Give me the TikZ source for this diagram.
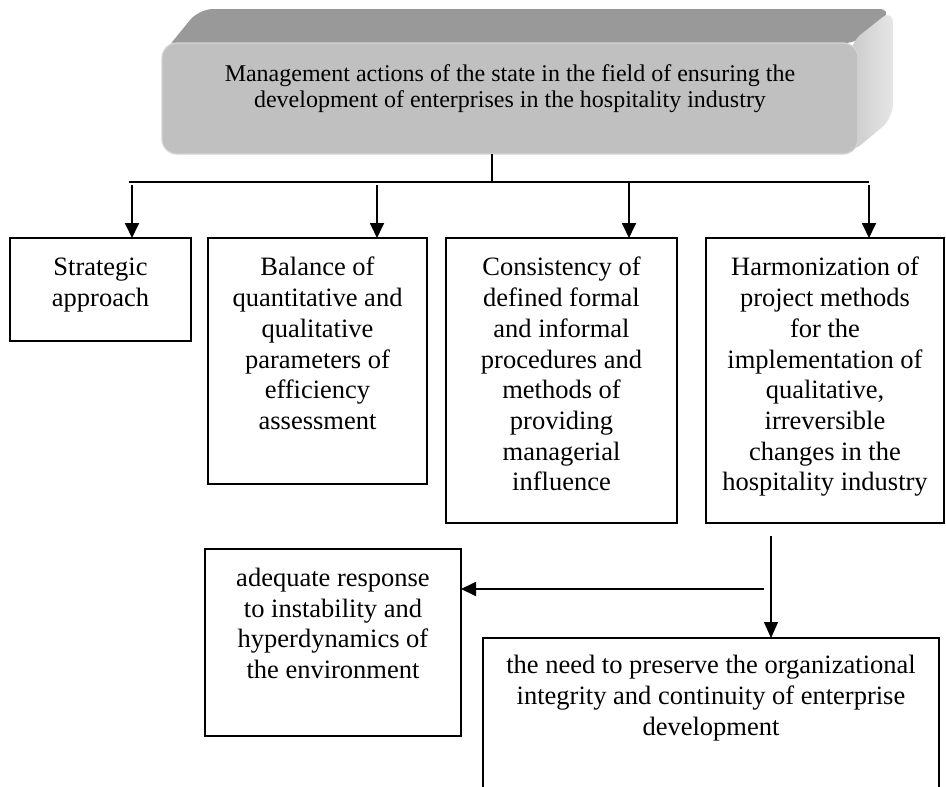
\documentclass[tikz,border=0pt]{standalone}
\usepackage{fontspec}
\setmainfont{Liberation Serif}
\usetikzlibrary{arrows.meta}
\definecolor{frontgray}{RGB}{192,192,192}
\definecolor{topgray}{RGB}{153,153,153}
\definecolor{sideL}{RGB}{202,202,202}
\definecolor{sideR}{RGB}{230,230,230}
\definecolor{rimgray}{RGB}{212,212,212}
\newcommand\bxtext[4]{\parbox[c][#2][t]{#1}{\centering\vspace*{#3}\strut#4}}
\begin{document}
\begin{tikzpicture}[x=1pt,y=-1pt,
  box/.style={draw, line width=1.4pt, inner sep=0pt, outer sep=0pt, anchor=north west, font=\fontsize{26.5}{30.7}\selectfont},
  arr/.style={line width=1.8pt, -{Triangle[length=15pt,width=14pt]}},
  thinarr/.style={line width=1.3pt, -{Triangle[length=16pt,width=14pt]}},
  link/.style={line width=1.6pt}]
\useasboundingbox (0,0) rectangle (946,787);

% 3D top box
\fill[topgray, rounded corners=14pt] (164,52) -- (199,9) -- (893,9) -- (858,43) -- cycle;
\shade[left color=sideL, right color=sideR, rounded corners=14pt] (850,43) -- (893,9) -- (893,118) -- (850,154) -- cycle;
\node[anchor=north west, inner sep=0pt, outer sep=0pt, fill=frontgray, draw=rimgray, line width=1.2pt, rounded corners=15pt, font=\fontsize{24}{26.5}\selectfont] (top) at (162,43)
  {\bxtext{696pt}{111pt}{19.5pt}{Management actions of the state in the field of ensuring the\\development of enterprises in the hospitality industry}};

% boxes
\node[box] (b1) at (10,238) {\bxtext{181pt}{103pt}{16.5pt}{Strategic\\approach}};
\node[box] (b2) at (208,238) {\bxtext{219pt}{246pt}{16.5pt}{Balance of\\quantitative and\\qualitative\\parameters of\\efficiency\\assessment}};
\node[box] (b3) at (446,238) {\bxtext{231pt}{285pt}{16.5pt}{Consistency of\\defined formal\\and informal\\procedures and\\methods of\\providing\\managerial\\influence}};
\node[box] (b4) at (706,238) {\bxtext{238pt}{285pt}{16.5pt}{Harmonization of\\project methods\\for the\\implementation of\\qualitative,\\irreversible\\changes in the\\hospitality industry}};
\node[box] (b5) at (205,549) {\bxtext{256pt}{187pt}{16pt}{adequate response\\to instability and\\hyperdynamics of\\the environment}};
\node[box, draw=none] (b6) at (483,638) {\bxtext{456pt}{160pt}{14.5pt}{the need to preserve the organizational\\integrity and continuity of enterprise\\development}};
\draw[line width=1.4pt] (b6.south west) -- (b6.north west) -- (b6.north east) -- (b6.south east);

% connectors
\coordinate (j) at (492,182);
\coordinate (busL) at (129,182);
\coordinate (busR) at (869,182);
\draw[link] (top.south -| j) -- (j);
\draw[link] (busL) -- (busR);
\coordinate (a1) at (132,185);
\coordinate (a2) at (377,185);
\coordinate (a3) at (629,182);
\coordinate (a4) at (869,185);
\draw[arr] (a1) -- (a1 |- b1.north);
\draw[arr] (a2) -- (a2 |- b2.north);
\draw[arr] (a3) -- (a3 |- b3.north);
\draw[arr] (a4) -- (a4 |- b4.north);
\coordinate (v0) at (771,536);
\draw[thinarr] (v0) -- (v0 |- b6.north);
\coordinate (h0) at (764,589);
\draw[arr] (h0) -- (h0 -| b5.east);
\end{tikzpicture}
\end{document}
